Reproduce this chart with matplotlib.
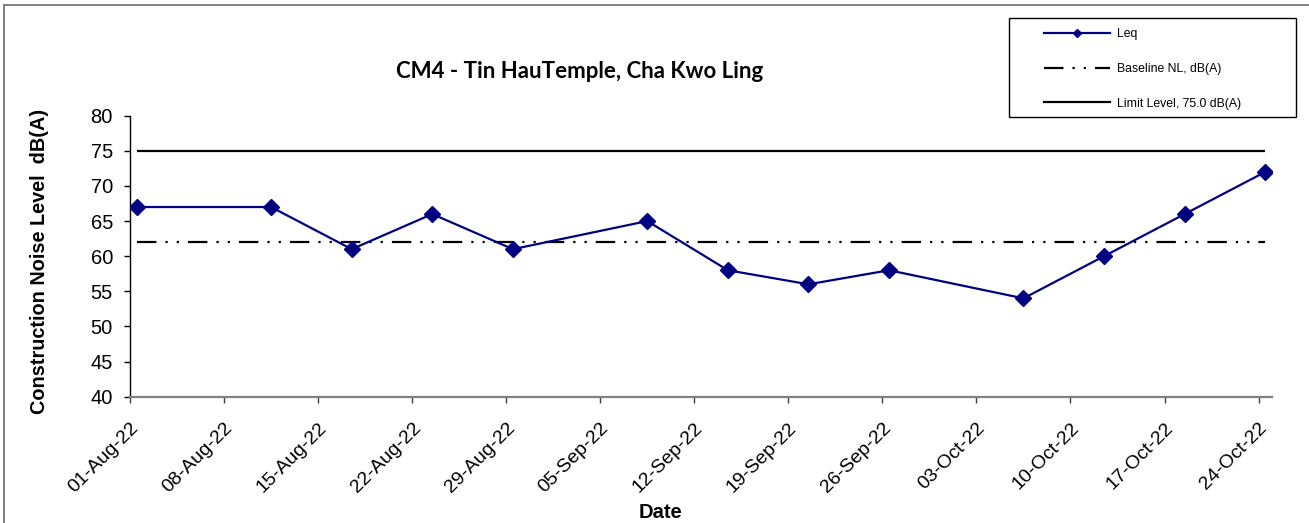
import datetime as dt
import matplotlib
matplotlib.use("Agg")
import matplotlib.pyplot as plt
import matplotlib.dates as mdates
from matplotlib.patches import Rectangle
from matplotlib.lines import Line2D
from matplotlib.transforms import ScaledTranslation

plt.rcParams['font.family'] = ['Liberation Sans', 'DejaVu Sans']
plt.rcParams['lines.scale_dashes'] = False

# data
dates = ["2022-08-01", "2022-08-11", "2022-08-17", "2022-08-23", "2022-08-29",
         "2022-09-08", "2022-09-14", "2022-09-20", "2022-09-26", "2022-10-06",
         "2022-10-12", "2022-10-18", "2022-10-24"]
leq = [67, 67, 61, 66, 61, 65, 58, 56, 58, 54, 60, 66, 72]
baseline = 62
limit = 75
title = "CM4 - Tin HauTemple, Cha Kwo Ling"
labels = ["Leq", "Baseline NL, dB(A)", "Limit Level, 75.0 dB(A)"]

W, H = 1309, 523
fig = plt.figure(figsize=(W / 100, H / 100), dpi=100)
ax = fig.add_axes([130 / W, 1 - 396.7 / H, (1272 - 130) / W, (396.7 - 115.7) / H])

# excel puts date points in the middle of the day
x = [dt.datetime.strptime(d, "%Y-%m-%d") + dt.timedelta(hours=12) for d in dates]

dashdotdot = (0, (14, 6.5, 1.6, 6.5, 1.6, 6.5))
ax.plot([x[0], x[-1]], [limit, limit], color="black", lw=1.6, solid_capstyle="butt")
ax.plot([x[0], x[-1]], [baseline, baseline], color="black", lw=1.6,
        linestyle=dashdotdot, dash_capstyle="butt")
ax.plot(x, leq, color="#000080", lw=1.6, marker="D", markersize=8, zorder=3)

ax.set_xlim(dt.datetime(2022, 8, 1), dt.datetime(2022, 10, 25))
ax.set_ylim(40, 80)
ax.set_xticks([dt.datetime(2022, 8, 1) + dt.timedelta(days=7 * i) for i in range(13)])
ax.xaxis.set_major_formatter(mdates.DateFormatter("%d-%b-%y"))
ax.set_yticks(range(40, 81, 5))

for s in ["top", "right"]:
    ax.spines[s].set_visible(False)
ax.spines["left"].set_color("black")
ax.spines["left"].set_linewidth(1.0)
ax.spines["bottom"].set_color("#808080")
ax.spines["bottom"].set_linewidth(1.6)
ax.tick_params(axis="y", direction="out", length=4.3, width=1.0, color="black",
               labelsize=14.5, pad=8)
ax.tick_params(axis="x", direction="out", length=4.3, width=1.0, color="#404040",
               labelsize=14, pad=10)
shift = ScaledTranslation(0.06, -0.09, fig.dpi_scale_trans)
for lbl in ax.get_xticklabels():
    lbl.set_rotation(45)
    lbl.set_ha("right")
    lbl.set_va("center")
    lbl.set_rotation_mode("anchor")
    lbl.set_transform(lbl.get_transform() + shift)

fig.text(580 / W, 1 - 71 / H, title, ha="center", va="center",
         fontsize=16, fontweight="bold", family=["Lato", "DejaVu Sans"])
fig.text(40 / W, 1 - 261 / H, "Construction Noise Level  dB(A)", rotation=90,
         ha="center", va="center", fontsize=14.3, fontweight="bold")
fig.text(660 / W, 1 - 512 / H, "Date", ha="center", va="center",
         fontsize=14.5, fontweight="bold")

# outer chart border (top and left visible)
fig.add_artist(Line2D([4 / W, 4 / W], [0, 1 - 5 / H], color="#808080", lw=1.4))
fig.add_artist(Line2D([4 / W, 1], [1 - 5 / H, 1 - 5 / H], color="#808080", lw=1.4))

# legend box
fig.patches.append(Rectangle((1009 / W, 1 - 117 / H), (1296 - 1009) / W, (117 - 18) / H,
                             transform=fig.transFigure, fill=False, ec="black", lw=1.0))
handles = [
    Line2D([], [], color="#000080", lw=1.6, marker="D", markersize=4.5),
    Line2D([], [], color="black", lw=1.6, linestyle=dashdotdot),
    Line2D([], [], color="black", lw=1.6),
]
fig.legend(handles, labels, loc="upper left", bbox_to_anchor=(1044 / W, 1 - 28.5 / H),
           frameon=False, fontsize=8.8, handlelength=5.4, handletextpad=0.55,
           labelspacing=1.85, borderpad=0, borderaxespad=0)

fig.savefig("out.png", dpi=100)
